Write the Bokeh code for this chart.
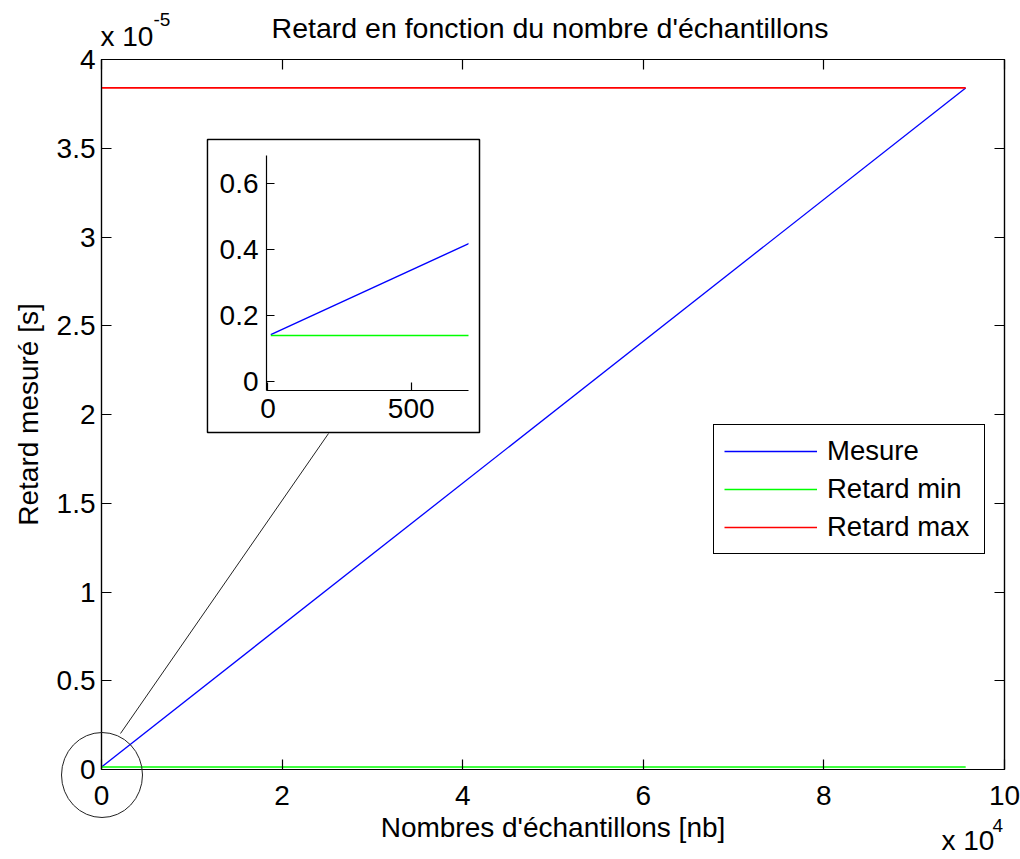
import math
from bokeh.plotting import figure
from bokeh.models import (Range1d, FixedTicker, CustomJSTickFormatter, LinearAxis,
                          Legend, LegendItem, GridBox)
from bokeh.core.properties import value
from bokeh.embed import file_html
from bokeh.resources import INLINE

# ---------------- data ----------------
nb_echantillons = [10, 95700]            # number of samples
retard_mesure = [1.42e-7, 3.84e-5]       # measured delay [s]
retard_min = [1.39e-7, 1.39e-7]          # min delay [s]
retard_max = [3.84e-5, 3.84e-5]          # max delay [s]
legend_labels = ["Mesure", "Retard min", "Retard max"]
title_text = "Retard en fonction du nombre d'échantillons"
x_ticks = [0, 2e4, 4e4, 6e4, 8e4, 1e5]
y_ticks = [0, 0.5e-5, 1e-5, 1.5e-5, 2e-5, 2.5e-5, 3e-5, 3.5e-5, 4e-5]
inset_x_ticks = [0, 500]
inset_y_ticks = [0, 0.2e-6, 0.4e-6, 0.6e-6]

# ---------------- layout constants (page pixels) ----------------
FONT = "Liberation Sans"
FS = "28px"
W, H = 1020, 859
FL, FR, FT, FB = 101, 1004, 59, 769     # main frame edges
X0, X1 = 0, 1e5
Y0, Y1 = 0, 4e-5
BOX = (207, 479, 139, 432)              # inset box: left, right, top, bottom

BLUE, GREEN, RED = "#0000ff", "#00ff00", "#ff0000"


def style_axis(ax, tick_len, standoff):
    ax.major_tick_in = tick_len
    ax.major_tick_out = 0
    ax.minor_tick_line_color = None
    ax.axis_line_color = "black"
    ax.axis_line_width = 1.2
    ax.major_tick_line_color = "black"
    ax.major_tick_line_width = 1.2
    ax.major_label_text_font = FONT
    ax.major_label_text_font_size = FS
    ax.major_label_text_color = "black"
    ax.major_label_standoff = standoff
    ax.axis_label_text_font = FONT
    ax.axis_label_text_font_size = FS
    ax.axis_label_text_font_style = "normal"
    ax.axis_label_text_color = "black"


xfmt = CustomJSTickFormatter(code="return String(Math.round(tick / 1e3) / 10);")
yfmt = CustomJSTickFormatter(code="return String(Math.round(tick * 1e6) / 10);")
blank = CustomJSTickFormatter(code="return '';")

# ---------------- main figure ----------------
p = figure(width=W, height=H, x_range=Range1d(X0, X1), y_range=Range1d(Y0, Y1),
           output_backend="svg", toolbar_location=None,
           min_border_left=FL, min_border_right=W - FR,
           min_border_top=FT, min_border_bottom=H - FB,
           x_axis_label="Nombres d'échantillons [nb]",
           y_axis_label="Retard mesuré [s]")
p.frame_align = False
p.grid.visible = False
p.outline_line_color = "black"
p.outline_line_width = 1.2
p.background_fill_color = "white"
p.border_fill_color = "white"

xa = p.xaxis[0]
xa.ticker = FixedTicker(ticks=x_ticks)
xa.formatter = xfmt
style_axis(xa, 10, 16)
xa.axis_label_standoff = 4

ya = p.yaxis[0]
ya.ticker = FixedTicker(ticks=y_ticks)
ya.formatter = yfmt
style_axis(ya, 10, 6)
ya.axis_label_standoff = 10

ra = LinearAxis(ticker=FixedTicker(ticks=y_ticks), formatter=blank)
style_axis(ra, 10, 0)
p.add_layout(ra, "right")
ta = LinearAxis(ticker=FixedTicker(ticks=x_ticks), formatter=blank)
style_axis(ta, 10, 0)
p.add_layout(ta, "above")

r_mes = p.line(nb_echantillons, retard_mesure, line_color=BLUE, line_width=1.3)
r_min = p.line(nb_echantillons, retard_min, line_color=GREEN, line_width=1.6)
r_max = p.line(nb_echantillons, retard_max, line_color=RED, line_width=1.6)

legend = Legend(items=[LegendItem(label=legend_labels[0], renderers=[r_mes]),
                       LegendItem(label=legend_labels[1], renderers=[r_min]),
                       LegendItem(label=legend_labels[2], renderers=[r_max])],
                location=(713 - FL, FB - 554), margin=0, padding=10, spacing=6,
                glyph_width=93, glyph_height=32, label_height=32, label_width=147,
                label_standoff=10, label_text_font=FONT, label_text_font_size="27.5px",
                label_text_color="black",
                border_line_color="black", border_line_width=1.2, border_line_alpha=1,
                background_fill_color="white", background_fill_alpha=1)
p.add_layout(legend)

# ---------------- overlay (decorations in page pixels) ----------------
ov = figure(width=W, height=H, x_range=Range1d(0, W), y_range=Range1d(H, 0),
            output_backend="svg", toolbar_location=None,
            x_axis_type=None, y_axis_type=None,
            min_border=0, min_border_left=0, min_border_right=0,
            min_border_top=0, min_border_bottom=0)
ov.frame_align = False
ov.grid.visible = False
ov.outline_line_color = None
ov.background_fill_color = None
ov.border_fill_color = None

# title
ov.text(x=[(FL + FR) / 2 - 3], y=[27], text=[title_text], text_font=value(FONT),
        text_font_size="28.5px", text_align="center", text_baseline="middle",
        text_color="black")
# zoom circle around the origin and connector to the inset
ov.ellipse(x=[101.5], y=[774.5], width=[81], height=[85], fill_alpha=0,
           line_color="#222222", line_width=1)
ov.segment(x0=[120], y0=[733], x1=[328], y1=[433], line_color="#222222", line_width=1)
# inset box
ov.quad(left=[BOX[0]], right=[BOX[1]], top=[BOX[2]], bottom=[BOX[3]],
        fill_color="white", line_color="black", line_width=1.5)
# exponent labels
ov.text(x=[100], y=[35.5], text=["x 10"], text_font=value(FONT), text_font_size=FS,
        text_align="left", text_baseline="middle", text_color="black")
ov.text(x=[153], y=[19], text=["-5"], text_font=value(FONT), text_font_size="19px",
        text_align="left", text_baseline="middle", text_color="black")
ov.text(x=[941], y=[840], text=["x 10"], text_font=value(FONT), text_font_size=FS,
        text_align="left", text_baseline="middle", text_color="black")
ov.text(x=[992], y=[825], text=["4"], text_font=value(FONT), text_font_size="19px",
        text_align="left", text_baseline="middle", text_color="black")

# ---------------- inset ----------------
ins = figure(width=270, height=291, x_range=Range1d(-5, 700),
             y_range=Range1d(-0.028e-6, 0.686e-6),
             output_backend="svg", toolbar_location=None,
             min_border_left=58, min_border_right=10,
             min_border_top=15, min_border_bottom=41)
ins.frame_align = False
ins.grid.visible = False
ins.outline_line_color = None
ins.background_fill_color = "white"
ins.border_fill_color = "white"
ix = ins.xaxis[0]
ix.ticker = FixedTicker(ticks=inset_x_ticks)
style_axis(ix, 8, 8)
iy = ins.yaxis[0]
iy.ticker = FixedTicker(ticks=inset_y_ticks)
iy.formatter = CustomJSTickFormatter(code="return String(Math.round(tick * 1e7) / 10);")
style_axis(iy, 8, 8)
ins.line(nb_echantillons, retard_mesure, line_color=BLUE, line_width=1.4)
ins.line(nb_echantillons, retard_min, line_color=GREEN, line_width=1.6)

layout = GridBox(children=[(p, 0, 0, 3, 3), (ov, 0, 0, 3, 3), (ins, 1, 1, 1, 1)],
                 rows=["140px", "291px", "428px"], cols=["208px", "270px", "542px"])

open("out.html", "w").write(file_html(layout, INLINE))
